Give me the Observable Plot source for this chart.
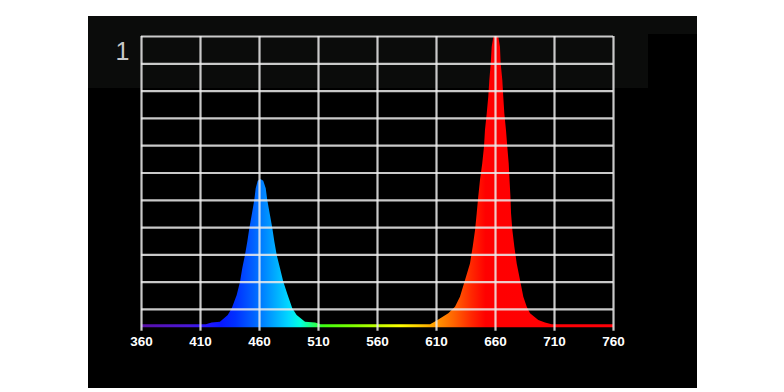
<!DOCTYPE html>
<html>
<head>
<meta charset="utf-8">
<script src="https://cdn.jsdelivr.net/npm/d3@7"></script>
<script src="https://cdn.jsdelivr.net/npm/@observablehq/plot@0.6"></script>
<style>
  html, body { margin: 0; padding: 0; background: #ffffff; }
  #wrap { position: relative; width: 784px; height: 392px; overflow: hidden; }
  .bg { position: absolute; }
  #chart { position: absolute; left: 0; top: 0; }
</style>
</head>
<body>
<div id="wrap">
  <div class="bg" style="left:88px;top:16px;width:609px;height:372px;background:#000000;"></div>
  <div class="bg" style="left:88px;top:16px;width:560px;height:72px;background:#0b0c0b;"></div>
  <div class="bg" style="left:648px;top:16px;width:49px;height:18px;background:#0b0c0b;"></div>
  <div id="chart"></div>
</div>
<script>
// Wavelength (nm) and relative intensity
const wavelengths = [
  360, 380, 400, 415, 419.9, 426.9, 433.5, 436.9, 441.1, 443.9, 445.8, 448.1,
  450.1, 451.8, 453.8, 456.0, 457.2, 458.9, 461.2, 463.6, 465.7, 467.0, 469.3,
  471.3, 473.0, 475.0, 477.8, 480.6, 484.3, 488.2, 491.9, 499.0, 507.5, 512,
  540, 570, 600, 605, 611.3, 620.4, 626.1, 630.3, 634.6, 638.8, 641.1, 643.1,
  644.5, 645.8, 647.3, 649.2, 650.7, 651.5, 653.0, 654.3, 655.2, 656.4, 657.2,
  658.6, 660.7, 662.8, 664.2, 664.8, 666.2, 667.0, 667.9, 669.3, 670.4, 671.6,
  672.3, 673.1, 673.6, 674.7, 676.4, 678.4, 681.2, 684.0, 686.9, 689.7, 696.7,
  702.4, 708, 730, 760
];
const intensity = [
  -0.056, -0.056, -0.056, -0.056, -0.050, -0.047, -0.022, 0.003, 0.051, 0.100, 0.149, 0.198,
  0.247, 0.296, 0.344, 0.399, 0.442, 0.470, 0.476, 0.470, 0.442, 0.399, 0.344,
  0.296, 0.247, 0.198, 0.149, 0.100, 0.051, 0.003, -0.022, -0.047, -0.050, -0.056,
  -0.056, -0.056, -0.056, -0.056, -0.040, -0.016, 0.008, 0.045, 0.106, 0.167, 0.228, 0.289,
  0.351, 0.411, 0.473, 0.534, 0.595, 0.656, 0.717, 0.778, 0.839, 0.900, 0.961,
  0.997, 1.000, 0.997, 0.961, 0.900, 0.839, 0.778, 0.717, 0.656, 0.595, 0.534,
  0.473, 0.411, 0.351, 0.289, 0.228, 0.167, 0.106, 0.045, 0.008, -0.016, -0.040,
  -0.050, -0.056, -0.056, -0.056
];
const BASE = -0.067;

// Spectrum colour stops (wavelength -> colour)
const stopWavelengths = [360, 400, 415, 428, 440, 455, 465, 475, 485, 495, 505, 515, 540, 560, 580, 595, 610, 625, 640, 652, 760];
const stopColors = ["#5a10a8", "#4a18d8", "#2818ff", "#0818ff", "#0030ff", "#0060ff", "#0088ff", "#00b0ff", "#00d8ff", "#00ffe0", "#20ff70", "#40ff10", "#80ff00", "#c0ff00", "#ffff00", "#ffd000", "#ff9800", "#ff6400", "#ff2800", "#ff0000", "#ff0008"];

const xTicks = [360, 410, 460, 510, 560, 610, 660, 710, 760];
const yGrid = [0, 0.1, 0.2, 0.3, 0.4, 0.5, 0.6, 0.7, 0.8, 0.9, 1.0];
const yLabel = [1];

const data = wavelengths.map((w, i) => ({wl: w, v: intensity[i]}));

const svg = Plot.plot({
  width: 784,
  height: 392,
  marginLeft: 141,
  marginRight: 171,
  marginTop: 36,
  marginBottom: 61.2,
  style: {background: "transparent", color: "#ffffff", overflow: "visible"},
  x: {domain: [360, 760]},
  y: {domain: [-0.08, 1]},
  marks: [
    Plot.areaY(data, {x: "wl", y1: BASE, y2: "v", fill: "url(#spec)"}),
    Plot.ruleY(yGrid, {stroke: "#ececec", strokeOpacity: 0.85, strokeWidth: 2.2}),
    Plot.ruleX(xTicks, {y1: -0.08, y2: 1, stroke: "#ececec", strokeOpacity: 0.85, strokeWidth: 2.2}),
    Plot.axisX(xTicks, {
      tickSize: 0, tickPadding: 5.5, tickFormat: d => String(d),
      fontSize: 13.5, fontWeight: "bold", fontFamily: "Liberation Sans, Arial, sans-serif",
      fill: "#ffffff", label: null
    }),
    Plot.axisY(yLabel, {
      tickSize: 0, tickPadding: 12, dy: 15, tickFormat: d => String(d),
      fontSize: 25, fontFamily: "Liberation Sans, Arial, sans-serif",
      fill: "#c8c8c8", label: null
    })
  ]
});

const grad = d3.select(svg).insert("defs", ":first-child")
  .append("linearGradient")
  .attr("id", "spec")
  .attr("x1", "0").attr("x2", "1").attr("y1", "0").attr("y2", "0");
stopWavelengths.forEach((w, i) => {
  grad.append("stop")
    .attr("offset", (w - 360) / 400)
    .attr("stop-color", stopColors[i]);
});

document.getElementById("chart").appendChild(svg);
</script>
</body>
</html>
